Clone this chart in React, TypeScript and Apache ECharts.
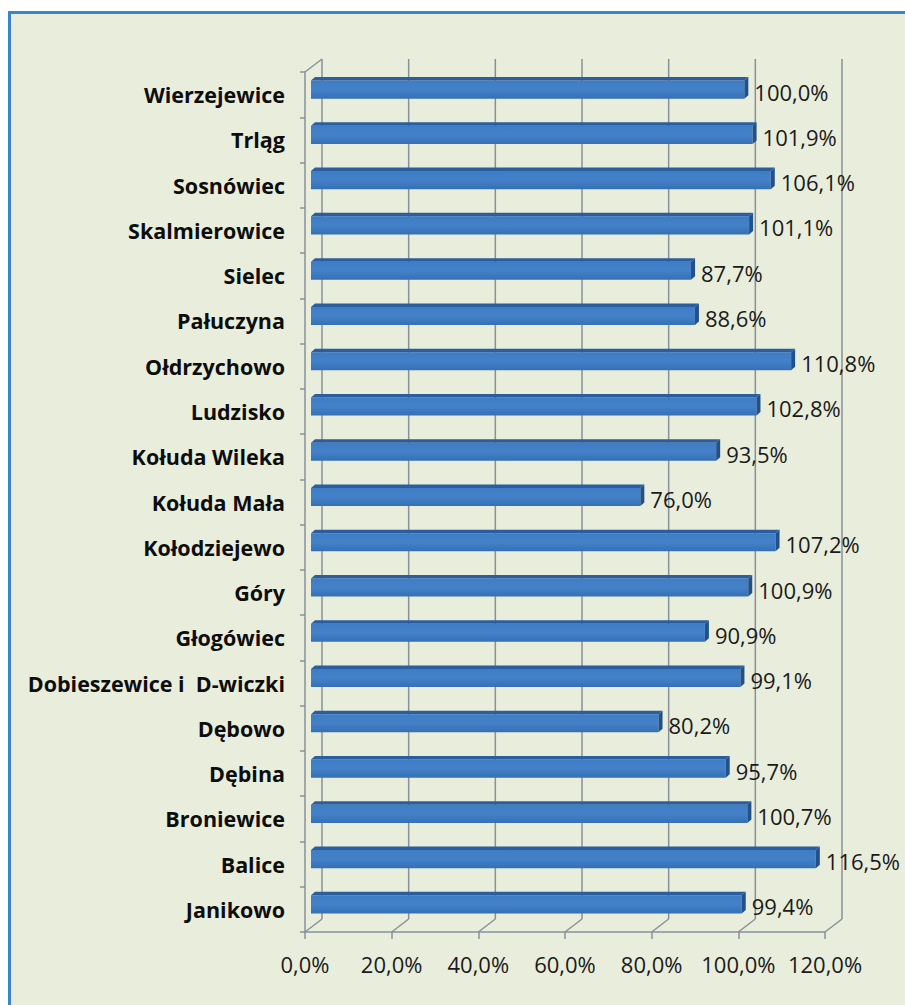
import React, { useEffect, useRef } from "react";
import * as echarts from "echarts";

const categories = [
  "Wierzejewice",
  "Trląg",
  "Sosnówiec",
  "Skalmierowice",
  "Sielec",
  "Pałuczyna",
  "Ołdrzychowo",
  "Ludzisko",
  "Kołuda Wileka",
  "Kołuda Mała",
  "Kołodziejewo",
  "Góry",
  "Głogówiec",
  "Dobieszewice i  D-wiczki",
  "Dębowo",
  "Dębina",
  "Broniewice",
  "Balice",
  "Janikowo",
];

const values = [
  100.0, 101.9, 106.1, 101.1, 87.7, 88.6, 110.8, 102.8, 93.5, 76.0, 107.2,
  100.9, 90.9, 99.1, 80.2, 95.7, 100.7, 116.5, 99.4,
];

const xTicks = [0, 20, 40, 60, 80, 100, 120];
const xTickLabels = ["0,0%", "20,0%", "40,0%", "60,0%", "80,0%", "100,0%", "120,0%"];

const fmt = (v: number) => v.toFixed(1).replace(".", ",") + "%";

const FRAME = "#87919a";
const BACK_DX = 17;
const BACK_DY = -13;

export default function App() {
  const ref = useRef<HTMLDivElement>(null);

  useEffect(() => {
    if (!ref.current) return;
    const chart = echarts.init(ref.current, undefined, { renderer: "svg" });

    const frameItem = (params: any, api: any) => {
      const cs = params.coordSys;
      const top = cs.y;
      const bottom = cs.y + cs.height;
      const style = { stroke: FRAME, lineWidth: 1.5, fill: "none" };
      const children: any[] = [];
      for (const t of xTicks) {
        const x = api.coord([t, 0])[0];
        children.push({
          type: "line",
          shape: { x1: x + BACK_DX, y1: top + BACK_DY, x2: x + BACK_DX, y2: bottom + BACK_DY },
          style,
        });
        children.push({
          type: "line",
          shape: { x1: x + BACK_DX, y1: bottom + BACK_DY, x2: x, y2: bottom },
          style,
        });
      }
      children.push({
        type: "line",
        shape: { x1: cs.x, y1: top, x2: cs.x + BACK_DX, y2: top + BACK_DY },
        style,
      });
      return { type: "group", children };
    };

    const barItem = (params: any, api: any) => {
      const v = api.value(0);
      const i = api.value(1);
      const s = api.coord([0, i]);
      const e = api.coord([v, i]);
      const band = api.size([0, 1])[1];
      const h = band * 0.4;
      const ox = 6;
      const oy = -5;
      const dx = 4;
      const dy = -3.5;
      const x0 = s[0] + ox;
      const x1 = e[0] + ox;
      const yc = s[1] + oy;
      const yT = yc - h / 2;
      const yB = yc + h / 2;
      return {
        type: "group",
        children: [
          {
            type: "rect",
            shape: { x: x0, y: yT, width: x1 - x0, height: h },
            style: {
              fill: new echarts.graphic.LinearGradient(0, 0, 0, 1, [
                { offset: 0, color: "#3e7dc5" },
                { offset: 0.5, color: "#4481c8" },
                { offset: 1, color: "#3570b6" },
              ]),
            },
          },
          {
            type: "polygon",
            shape: {
              points: [
                [x0, yT],
                [x1, yT],
                [x1 + dx, yT + dy],
                [x0 + dx, yT + dy],
              ],
            },
            style: { fill: "#2b5e9e" },
          },
          {
            type: "polygon",
            shape: {
              points: [
                [x1, yT],
                [x1 + dx, yT + dy],
                [x1 + dx, yB + dy],
                [x1, yB],
              ],
            },
            style: { fill: "#21518a" },
          },
          {
            type: "text",
            x: x1 + dx + 6,
            y: yc + 2,
            style: {
              text: fmt(v),
              fill: "#1a1a1a",
              fontSize: 22,
              fontFamily: "Open Sans",
              align: "left",
              verticalAlign: "middle",
            },
          },
        ],
      };
    };

    chart.setOption({
      animation: false,
      grid: { left: 305, right: 80, top: 72, bottom: 73, containLabel: false },
      xAxis: {
        type: "value",
        min: 0,
        max: 120,
        interval: 20,
        axisLine: { show: true, lineStyle: { color: FRAME, width: 1.5 } },
        axisTick: { show: true, length: 7, lineStyle: { color: FRAME, width: 1.5 } },
        splitLine: { show: false },
        axisLabel: {
          formatter: (v: number) => xTickLabels[xTicks.indexOf(v)] ?? "",
          fontFamily: "Open Sans",
          fontSize: 22,
          color: "#1a1a1a",
          margin: 21,
        },
      },
      yAxis: {
        type: "category",
        data: categories,
        inverse: true,
        axisLine: { show: true, lineStyle: { color: FRAME, width: 1.5 } },
        axisTick: { show: true, length: 5, lineStyle: { color: FRAME, width: 1.5 } },
        splitLine: { show: false },
        axisLabel: {
          fontFamily: "Open Sans",
          fontWeight: "bold",
          fontSize: 21.5,
          color: "#0d0d0d",
          margin: 20,
        },
      },
      series: [
        {
          type: "custom",
          name: "frame",
          renderItem: frameItem,
          data: [[0, 0]],
          clip: false,
          silent: true,
          z: 1,
        },
        {
          type: "custom",
          name: "bars",
          renderItem: barItem,
          encode: { x: 0, y: 1 },
          data: values.map((v, i) => [v, i]),
          clip: false,
          z: 2,
        },
      ],
    });

    return () => chart.dispose();
  }, []);

  return (
    <div
      style={{
        position: "fixed",
        left: 0,
        top: 0,
        width: 905,
        height: 1005,
        background: "#fff",
        overflow: "hidden",
      }}
    >
      <div
        style={{
          position: "absolute",
          left: 8,
          top: 11,
          width: 905,
          height: 1005,
          background: "#e9eddb",
          borderLeft: "3px solid #3a86c8",
          borderTop: "3px solid #3a86c8",
        }}
      />
      <div ref={ref} style={{ position: "absolute", left: 0, top: 0, width: 905, height: 1005 }} />
    </div>
  );
}
